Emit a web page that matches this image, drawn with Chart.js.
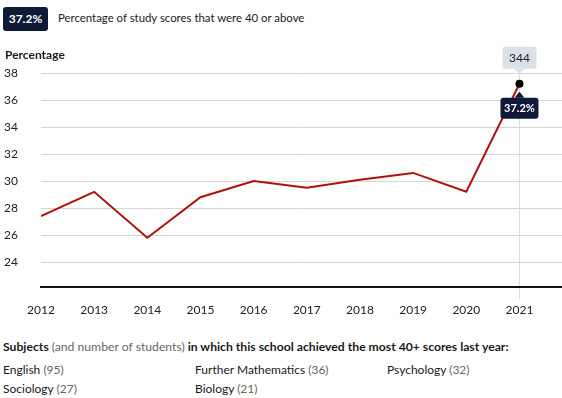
<!DOCTYPE html>
<html>
<head>
<meta charset="utf-8">
<script src="https://cdn.jsdelivr.net/npm/chart.js@4"></script>
<style>
    body { margin: 0; width: 562px; height: 398px; font-family: Lato, sans-serif; color: #1a1a1a; background: #fff; position: relative; overflow: hidden; }
    .badge { position: absolute; left: 3px; top: 7px; width: 45px; height: 24px; background: #0f1a38; color: #fff; font-weight: bold; font-size: 12px; line-height: 24px; text-align: center; border-radius: 3px; }
    .headline { position: absolute; left: 58px; top: 11px; font-size: 11.4px; }
    .ytitle { position: absolute; left: 5px; top: 47px; font-size: 12px; font-weight: bold; }
    .chart-box { position: absolute; left: 0; top: 40px; width: 562px; height: 280px; }
    .subjects-title { position: absolute; left: 3px; top: 339px; font-size: 12.2px; font-weight: bold; }
    .subjects-title span { font-weight: normal; color: #666; }
    .subj { position: absolute; font-size: 12px; }
    .subj span { color: #666; }
</style>
</head>
<body>
<div class="badge">37.2%</div>
<div class="headline">Percentage of study scores that were 40 or above</div>
<div class="chart-box"><canvas id="lineChart"></canvas></div>
<div class="ytitle">Percentage</div>
<div class="subjects-title">Subjects <span>(and number of students)</span> in which this school achieved the most 40+ scores last year:</div>
<div id="subjectList"></div>

<script>
// Data dari grafik
const years = [2012, 2013, 2014, 2015, 2016, 2017, 2018, 2019, 2020, 2021];
const percentages = [27.4, 29.2, 25.8, 28.8, 30.0, 29.5, 30.1, 30.6, 29.2, 37.2];
const yTicks = [24, 26, 28, 30, 32, 34, 36, 38];
const lastYearStudents = 344;
const subjectNames = ['English', 'Further Mathematics', 'Psychology', 'Sociology', 'Biology'];
const subjectCounts = [95, 36, 32, 27, 21];

// Daftar mata pelajaran di bawah grafik
const list = document.getElementById('subjectList');
subjectNames.forEach(function(name, i) {
    const el = document.createElement('div');
    el.className = 'subj';
    el.style.left = (3 + (i % 3) * 192) + 'px';
    el.style.top = (362 + Math.floor(i / 3) * 19) + 'px';
    el.innerHTML = name + ' <span>(' + subjectCounts[i] + ')</span>';
    list.appendChild(el);
});

const lastIdx = years.length - 1;

// Tooltip statis di titik terakhir
const labelPlugin = {
    id: 'lastLabels',
    afterDraw(chart) {
        const ctx = chart.ctx;
        const pt = chart.getDatasetMeta(0).data[lastIdx];
        const x = pt.x, y = pt.y;
        ctx.save();

        // kotak abu-abu dengan jumlah siswa
        ctx.fillStyle = '#dbe0e8';
        ctx.beginPath();
        ctx.roundRect(x - 17, y - 37, 34, 22, 3);
        ctx.fill();
        ctx.beginPath();
        ctx.moveTo(x - 5, y - 15);
        ctx.lineTo(x, y - 10);
        ctx.lineTo(x + 5, y - 15);
        ctx.fill();
        ctx.fillStyle = '#222';
        ctx.font = '12px Lato';
        ctx.textAlign = 'center';
        ctx.textBaseline = 'middle';
        ctx.fillText(String(lastYearStudents), x, y - 26);

        // kotak biru tua dengan persentase
        ctx.fillStyle = '#0f1a38';
        ctx.beginPath();
        ctx.roundRect(x - 19, y + 14, 38, 21, 3);
        ctx.fill();
        ctx.beginPath();
        ctx.moveTo(x - 5, y + 14);
        ctx.lineTo(x, y + 8);
        ctx.lineTo(x + 5, y + 14);
        ctx.fill();
        ctx.fillStyle = '#fff';
        ctx.font = 'bold 11px Lato';
        ctx.fillText(percentages[lastIdx].toFixed(1) + '%', x, y + 25);
        ctx.restore();
    }
};

new Chart(document.getElementById('lineChart').getContext('2d'), {
    type: 'line',
    data: {
        datasets: [{
            data: years.map(function(yr, i) { return { x: yr, y: percentages[i] }; }),
            borderColor: '#b20f0f',
            borderWidth: 2,
            tension: 0,
            pointRadius: function(c) { return c.dataIndex === lastIdx ? 4 : 0; },
            pointBackgroundColor: '#000',
            pointBorderColor: '#000',
            pointBorderWidth: 0
        }]
    },
    options: {
        responsive: true,
        maintainAspectRatio: false,
        animation: false,
        events: [],
        layout: { autoPadding: false, padding: { left: 4, top: 33, right: 0, bottom: 0 } },
        plugins: { legend: { display: false }, tooltip: { enabled: false } },
        scales: {
            x: {
                type: 'linear',
                min: years[0],
                max: 2021.8,
                afterBuildTicks: function(scale) {
                    scale.ticks = years.map(function(v) { return { value: v }; });
                },
                afterFit: function(scale) {
                    scale.height = 33;
                    scale.paddingRight = 0;
                },
                ticks: {
                    autoSkip: false,
                    maxRotation: 0,
                    padding: 4,
                    color: '#222',
                    font: { family: 'Lato', size: 12 },
                    callback: function(v) { return String(v); }
                },
                grid: {
                    tickLength: 12,
                    color: function(c) { return c.tick && c.tick.value === years[lastIdx] ? '#dcdcdc' : 'rgba(0,0,0,0)'; }
                },
                border: { display: true, color: '#111', width: 2 }
            },
            y: {
                min: 22.15,
                max: 38,
                afterBuildTicks: function(scale) {
                    scale.ticks = yTicks.map(function(v) { return { value: v }; });
                },
                afterFit: function(scale) { scale.width = 37; },
                ticks: {
                    crossAlign: 'far',
                    color: '#222',
                    font: { family: 'Lato', size: 12 }
                },
                grid: { color: '#d6d6d6', drawTicks: false },
                border: { display: false }
            }
        }
    },
    plugins: [labelPlugin]
});
</script>
</body>
</html>
